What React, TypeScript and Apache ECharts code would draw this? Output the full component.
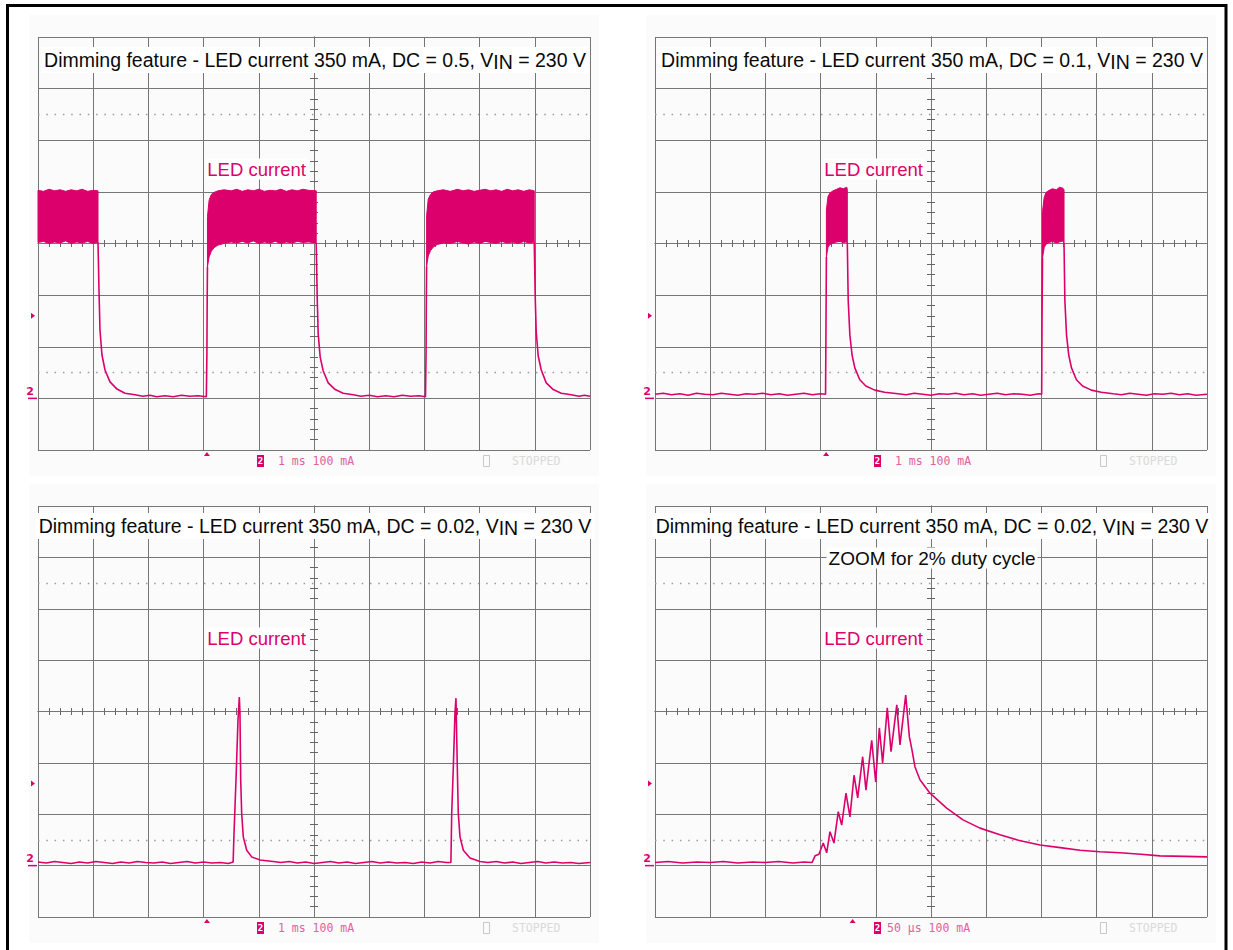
import React, { useEffect, useRef } from "react";
import * as echarts from "echarts";

// ---------------- data (time, current in mA) ----------------
const DC_VALUES = ["0.5", "0.1", "0.02", "0.02"];
const TIME_DIV = ["1 ms", "1 ms", "1 ms", "50 µs"];
const AMP_DIV = "100 mA";
const TRIGGER_T = [3.06, 3.1, 3.06, 179];
const TRIGGER_LEVEL = 160;
const DOTTED_LEVELS = [550, 50];

// Panel 1 (DC = 0.5) ripple bands
const P1_BAND1_T = [0, 0.1, 0.2, 0.3, 0.4, 0.5, 0.6, 0.7, 0.8, 0.9, 1.0, 1.087];
const P1_BAND1_HI = [403, 401, 405, 402, 404, 401, 404, 402, 405, 401, 403, 402];
const P1_BAND1_LO = [302, 304, 300, 303, 301, 305, 300, 303, 301, 304, 300, 303];
const P1_BAND2_T = [3.07, 3.1, 3.14, 3.19, 3.26, 3.37, 3.5, 3.6, 3.7, 3.8, 3.9, 4.0, 4.1, 4.2, 4.3, 4.4, 4.5, 4.6, 4.7, 4.8, 4.9, 5.04];
const P1_BAND2_HI = [352, 384, 395, 399, 402, 404, 402, 405, 401, 404, 402, 405, 401, 403, 402, 405, 401, 404, 402, 405, 403, 402];
const P1_BAND2_LO = [255, 274, 285, 292, 297, 300, 303, 301, 304, 301, 305, 300, 303, 301, 304, 300, 303, 301, 304, 302, 303, 301];
const P1_BAND3_T = [7.04, 7.07, 7.11, 7.16, 7.23, 7.34, 7.47, 7.6, 7.7, 7.8, 7.9, 8.0, 8.1, 8.2, 8.3, 8.4, 8.5, 8.6, 8.7, 8.8, 8.9, 8.99];
const P1_BAND3_HI = [354, 386, 395, 400, 402, 404, 401, 405, 402, 404, 401, 403, 405, 402, 404, 401, 405, 402, 404, 401, 404, 402];
const P1_BAND3_LO = [256, 276, 286, 293, 298, 301, 300, 304, 301, 299, 303, 300, 304, 302, 300, 304, 301, 303, 300, 304, 301, 303];
// Panel 1 single trace
const P1_SEG1 = [[1.087, 303], [1.105, 210], [1.123, 132], [1.159, 84], [1.214, 55], [1.304, 32], [1.431, 18], [1.576, 10], [1.757, 7], [1.9, 4], [2.03, 6], [2.15, 3], [2.3, 5], [2.45, 3], [2.6, 6], [2.75, 4], [2.9, 5], [3.05, 3], [3.06, 90], [3.065, 190], [3.07, 255]];
const P1_SEG2 = [[5.04, 301], [5.058, 195], [5.076, 125], [5.112, 80], [5.167, 53], [5.257, 30], [5.384, 17], [5.529, 10], [5.71, 7], [5.85, 4], [6.0, 6], [6.15, 3], [6.3, 5], [6.45, 3], [6.6, 6], [6.75, 4], [6.9, 5], [7.02, 3], [7.03, 90], [7.035, 190], [7.04, 256]];
const P1_SEG3 = [[8.99, 303], [9.008, 195], [9.026, 128], [9.062, 82], [9.117, 55], [9.207, 30], [9.334, 17], [9.479, 10], [9.66, 7], [9.8, 4], [9.9, 6], [10, 4]];

// Panel 2 (DC = 0.1)
const P2_BAND1_T = [3.105, 3.134, 3.17, 3.225, 3.29, 3.351, 3.41, 3.473, 3.484];
const P2_BAND1_HI = [365, 391, 398, 402, 405, 408, 406, 409, 405];
const P2_BAND1_LO = [274, 293, 298, 301, 303, 304, 302, 303, 300];
const P2_BAND2_T = [7.02, 7.05, 7.085, 7.14, 7.2, 7.27, 7.33, 7.39, 7.41];
const P2_BAND2_HI = [362, 389, 399, 403, 406, 404, 409, 407, 404];
const P2_BAND2_LO = [272, 292, 299, 302, 304, 301, 303, 305, 300];
const P2_SEG1 = [[0, 8], [0.15, 10], [0.3, 7], [0.45, 9], [0.6, 6], [0.75, 10], [0.9, 8], [1.05, 7], [1.2, 10], [1.35, 8], [1.5, 6], [1.65, 9], [1.8, 8], [1.95, 10], [2.1, 7], [2.25, 9], [2.4, 6], [2.55, 8], [2.7, 10], [2.85, 7], [3.0, 9], [3.09, 8], [3.098, 150], [3.105, 274]];
const P2_SEG2 = [[3.484, 300], [3.5, 190], [3.53, 123], [3.57, 84], [3.62, 59], [3.71, 36], [3.82, 24], [3.98, 16], [4.16, 12], [4.4, 9], [4.55, 7], [4.7, 10], [4.85, 8], [5.0, 6], [5.15, 9], [5.3, 8], [5.45, 10], [5.6, 7], [5.75, 9], [5.9, 6], [6.05, 8], [6.2, 10], [6.35, 7], [6.5, 9], [6.65, 8], [6.8, 6], [6.95, 9], [7.005, 8], [7.011, 150], [7.02, 272]];
const P2_SEG3 = [[7.41, 300], [7.425, 190], [7.455, 123], [7.495, 84], [7.545, 59], [7.635, 36], [7.745, 24], [7.905, 16], [8.085, 12], [8.3, 9], [8.45, 7], [8.6, 10], [8.75, 8], [8.9, 6], [9.05, 9], [9.2, 8], [9.35, 10], [9.5, 7], [9.65, 9], [9.8, 6], [10, 8]];

// Panel 3 (DC = 0.02)
const P3_TRACE = [[0, 7], [0.15, 5], [0.3, 8], [0.45, 6], [0.6, 4], [0.75, 7], [0.9, 5], [1.05, 8], [1.2, 6], [1.35, 4], [1.5, 7], [1.65, 5], [1.8, 8], [1.95, 6], [2.1, 5], [2.25, 7], [2.4, 4], [2.55, 6], [2.7, 8], [2.85, 5], [3.0, 7], [3.15, 5], [3.3, 6], [3.45, 4], [3.535, 7],
  [3.55, 60], [3.587, 167], [3.623, 283], [3.647, 328], [3.659, 297], [3.672, 167], [3.69, 102], [3.719, 56], [3.781, 30], [3.871, 17], [4.022, 11], [4.257, 8],
  [4.4, 6], [4.55, 8], [4.7, 5], [4.85, 7], [5.0, 4], [5.15, 6], [5.3, 8], [5.45, 5], [5.6, 7], [5.75, 4], [5.9, 6], [6.05, 8], [6.2, 5], [6.35, 7], [6.5, 5], [6.65, 6], [6.8, 4], [6.95, 7], [7.1, 5], [7.25, 8], [7.4, 6], [7.48, 6],
  [7.495, 102], [7.524, 192], [7.554, 297], [7.572, 326], [7.596, 192], [7.614, 102], [7.645, 56], [7.705, 30], [7.826, 15], [8.007, 8],
  [8.15, 6], [8.3, 8], [8.45, 5], [8.6, 7], [8.75, 4], [8.9, 6], [9.05, 8], [9.2, 5], [9.35, 7], [9.5, 5], [9.65, 6], [9.8, 4], [10, 6]];

// Panel 4 (zoom, time in µs)
const P4_TRACE = [[0, 6], [12, 8], [25, 5], [38, 7], [50, 6], [62, 8], [75, 5], [88, 7], [100, 6], [112, 8], [125, 5], [135, 7], [142.2, 6],
  [145, 19], [148.5, 22], [152.4, 44], [155.5, 25], [158.5, 66], [162.1, 44], [166.0, 105], [169.1, 79], [173.0, 141], [176.6, 95], [180.3, 176], [183.6, 132],
  [188.1, 212], [191.1, 147], [196.3, 244], [199.9, 163], [203.2, 268], [206.2, 200], [210.4, 307], [213.8, 222], [219.0, 313], [221.9, 235], [227.1, 332], [230.4, 251],
  [232.8, 225], [235.5, 192], [240, 167], [249.1, 141], [264.2, 112], [279, 89], [294.4, 73], [312.5, 60], [330, 49], [348.7, 40], [367, 35], [385, 30], [403, 27], [421.2, 25], [440, 22], [457.4, 19], [480, 18], [500, 17]];

// ---------------- layout / style ----------------
const PINK = "#dc006c";
const GRID_COLOR = "#767676";
const PANELS = [
  { left: 38, top: 37, width: 552, height: 413 },
  { left: 655, top: 37, width: 552, height: 413 },
  { left: 38, top: 506, width: 552, height: 411 },
  { left: 655, top: 506, width: 552, height: 411 },
];
const X_RANGE = [[0, 10, 1], [0, 10, 1], [0, 10, 1], [0, 500, 50]];
const Y_MIN = -100, Y_MAX = 700;

const PANEL_BANDS: number[][][][] = [
  [[P1_BAND1_T, P1_BAND1_LO, P1_BAND1_HI], [P1_BAND2_T, P1_BAND2_LO, P1_BAND2_HI], [P1_BAND3_T, P1_BAND3_LO, P1_BAND3_HI]],
  [[P2_BAND1_T, P2_BAND1_LO, P2_BAND1_HI], [P2_BAND2_T, P2_BAND2_LO, P2_BAND2_HI]],
  [],
  [],
];
const PANEL_SEGS = [[P1_SEG1, P1_SEG2, P1_SEG3], [P2_SEG1, P2_SEG2, P2_SEG3], [P3_TRACE], [P4_TRACE]];

function bandSeries(i: number, t: number[], lo: number[], hi: number[]) {
  const rows = t.map((x, k) => [x, lo[k], hi[k]]);
  return {
    type: "custom",
    xAxisIndex: i,
    yAxisIndex: i,
    data: rows,
    encode: { x: 0, y: [1, 2] },
    z: 3,
    silent: true,
    renderItem: (params: any, api: any) => {
      if (params.dataIndex !== 0) return null;
      const top = rows.map((r) => api.coord([r[0], r[2]]));
      const bot = rows.slice().reverse().map((r) => api.coord([r[0], r[1]]));
      return {
        type: "polygon",
        shape: { points: top.concat(bot) },
        style: { fill: PINK, stroke: PINK, lineWidth: 1 },
      };
    },
  };
}

function crossAxis(kind: "x" | "y", gridIndex: number, inside: boolean, len: number) {
  const r = kind === "x" ? 5 : 4;
  return {
    type: "value",
    gridIndex,
    min: -r,
    max: r,
    interval: 1,
    axisLine: { show: true, onZero: true, lineStyle: { color: GRID_COLOR, width: 1 } },
    axisTick: { show: false, inside },
    minorTick: { show: true, splitNumber: 5, length: len, lineStyle: { color: "#666", width: 1 } },
    axisLabel: { show: false },
    splitLine: { show: false },
    minorSplitLine: { show: false },
  };
}

function buildOption() {
  const grids: any[] = [];
  const xAxes: any[] = [];
  const yAxes: any[] = [];
  PANELS.forEach((p, i) => {
    grids.push({ left: p.left, top: p.top, width: p.width, height: p.height, containLabel: false });
    xAxes.push({
      type: "value", gridIndex: i, min: X_RANGE[i][0], max: X_RANGE[i][1], interval: X_RANGE[i][2],
      axisLine: { show: false }, axisTick: { show: false }, axisLabel: { show: false },
      splitLine: { show: true, lineStyle: { color: GRID_COLOR, width: 1 } },
    });
    yAxes.push({
      type: "value", gridIndex: i, min: Y_MIN, max: Y_MAX, interval: 100,
      axisLine: { show: false }, axisTick: { show: false }, axisLabel: { show: false },
      splitLine: { show: true, lineStyle: { color: GRID_COLOR, width: 1 } },
    });
  });
  [false, true].forEach((inside) => {
    PANELS.forEach((p) => {
      const gi = grids.length;
      grids.push({ left: p.left, top: p.top, width: p.width, height: p.height, containLabel: false });
      xAxes.push(crossAxis("x", gi, inside, 3.5));
      yAxes.push(crossAxis("y", gi, inside, 4));
    });
  });

  const series: any[] = [];
  PANELS.forEach((_, i) => {
    PANEL_BANDS[i].forEach((b) => series.push(bandSeries(i, b[0], b[1], b[2])));
    PANEL_SEGS[i].forEach((seg, k) => {
      const s: any = {
        type: "line", xAxisIndex: i, yAxisIndex: i, data: seg,
        showSymbol: false, symbol: "none", silent: true, z: 4,
        lineStyle: { color: PINK, width: 1.6 },
      };
      if (k === 0) {
        s.markLine = {
          silent: true, symbol: ["none", "none"], label: { show: false },
          lineStyle: { color: "#9a9a9a", type: [1.5, 6.8], width: 1.3 },
          data: DOTTED_LEVELS.map((v) => ({ yAxis: v })),
          z: 1,
        };
      }
      series.push(s);
    });
  });

  const g: any[] = [];
  g.push({ type: "rect", z: 50, shape: { x: 7.5, y: 5.5, width: 1218.5, height: 980 }, style: { fill: "none", stroke: "#000", lineWidth: 3 } });
  PANELS.forEach((p, i) => {
    const l = p.left, t = p.top, w = p.width, h = p.height, b = t + h;
    const yPix = (v: number) => t + ((Y_MAX - v) / (Y_MAX - Y_MIN)) * h;
    const xPix = (v: number) => l + ((v - X_RANGE[i][0]) / (X_RANGE[i][1] - X_RANGE[i][0])) * w;
    g.push({ type: "rect", z: -10, shape: { x: l - 9, y: t - 22, width: w + 18, height: h + 48 }, style: { fill: "#fbfbfb" } });
    const titleY = i < 2 ? t + 23 : t + 20;
    g.push({
      type: "text", z: 20, x: l + w / 2 + 1, y: titleY,
      style: {
        text: `{m|Dimming feature - LED current 350 mA, DC = ${DC_VALUES[i]}, V}{s|IN}{m| = 230 V}`,
        rich: {
          m: { font: '19.5px "Liberation Sans", Arial, sans-serif', fill: "#0a0a0a", lineHeight: 24, verticalAlign: "middle" },
          s: { font: '19.5px "Liberation Sans", Arial, sans-serif', fill: "#0a0a0a", lineHeight: 14, verticalAlign: "bottom" },
        },
        textAlign: "center", align: "center", textVerticalAlign: "middle", verticalAlign: "middle",
        backgroundColor: "#ffffff", padding: [1, 3, 1, 3],
      },
    });
    if (i === 3) {
      g.push({
        type: "text", z: 20, x: l + w / 2 + 1, y: t + 52,
        style: {
          text: "ZOOM for 2% duty cycle", font: '19px "Liberation Sans", Arial, sans-serif', fill: "#0a0a0a",
          textAlign: "center", align: "center", textVerticalAlign: "middle", verticalAlign: "middle",
          backgroundColor: "#ffffff", padding: [1, 2, 1, 2],
        },
      });
    }
    g.push({
      type: "text", z: 20, x: l + 269, y: t + 132,
      style: {
        text: "LED current", font: '18.5px "Liberation Sans", Arial, sans-serif', fill: PINK,
        textAlign: "right", align: "right", textVerticalAlign: "middle", verticalAlign: "middle",
        backgroundColor: "#ffffff", padding: [1, 1, 1, 1],
      },
    });
    const ty = yPix(TRIGGER_LEVEL);
    g.push({ type: "polygon", z: 20, shape: { points: [[l - 7, ty - 3], [l - 7, ty + 3], [l - 3, ty]] }, style: { fill: PINK } });
    const zy = yPix(0);
    g.push({ type: "text", z: 20, x: l - 4, y: zy - 7, style: { text: "2", font: 'bold 11px "DejaVu Sans", sans-serif', fill: PINK, textAlign: "right", align: "right", textVerticalAlign: "middle", verticalAlign: "middle" } });
    g.push({ type: "line", z: 20, shape: { x1: l - 10, y1: zy, x2: l - 1, y2: zy }, style: { stroke: PINK, lineWidth: 1.5 } });
    const tx = xPix(TRIGGER_T[i]);
    g.push({ type: "polygon", z: 20, shape: { points: [[tx - 3, b + 6], [tx + 3, b + 6], [tx, b + 2]] }, style: { fill: PINK } });
    g.push({ type: "rect", z: 20, shape: { x: l + 219, y: b + 5, width: 7, height: 12 }, style: { fill: PINK } });
    g.push({ type: "text", z: 21, x: l + 222.5, y: b + 11, style: { text: "2", font: 'bold 9px "DejaVu Sans Mono", monospace', fill: "#fff", textAlign: "center", align: "center", textVerticalAlign: "middle", verticalAlign: "middle" } });
    const statusX = i === 3 ? l + 232 : l + 240;
    g.push({ type: "text", z: 20, x: statusX, y: b + 11, style: { text: `${TIME_DIV[i]} ${AMP_DIV}`, font: '11.5px "DejaVu Sans Mono", monospace', fill: "#e2609c", textAlign: "left", align: "left", textVerticalAlign: "middle", verticalAlign: "middle" } });
    g.push({ type: "rect", z: 20, shape: { x: l + 445.5, y: b + 5.5, width: 6, height: 11 }, style: { fill: "none", stroke: "#c8c8c8", lineWidth: 1 } });
    g.push({ type: "text", z: 20, x: l + 474, y: b + 11, style: { text: "STOPPED", font: '11.5px "DejaVu Sans Mono", monospace', fill: "#dadada", textAlign: "left", align: "left", textVerticalAlign: "middle", verticalAlign: "middle" } });
  });

  return {
    animation: false,
    backgroundColor: "#ffffff",
    grid: grids,
    xAxis: xAxes,
    yAxis: yAxes,
    series,
    graphic: { elements: g },
  };
}

export default function App() {
  const ref = useRef<HTMLDivElement>(null);
  useEffect(() => {
    if (!ref.current) return;
    const chart = echarts.init(ref.current, null, { renderer: "svg" });
    chart.setOption(buildOption() as any);
    return () => chart.dispose();
  }, []);
  return (
    <div
      ref={ref}
      style={{ position: "fixed", left: 0, top: 0, width: 1233, height: 950, background: "#fff" }}
    />
  );
}
